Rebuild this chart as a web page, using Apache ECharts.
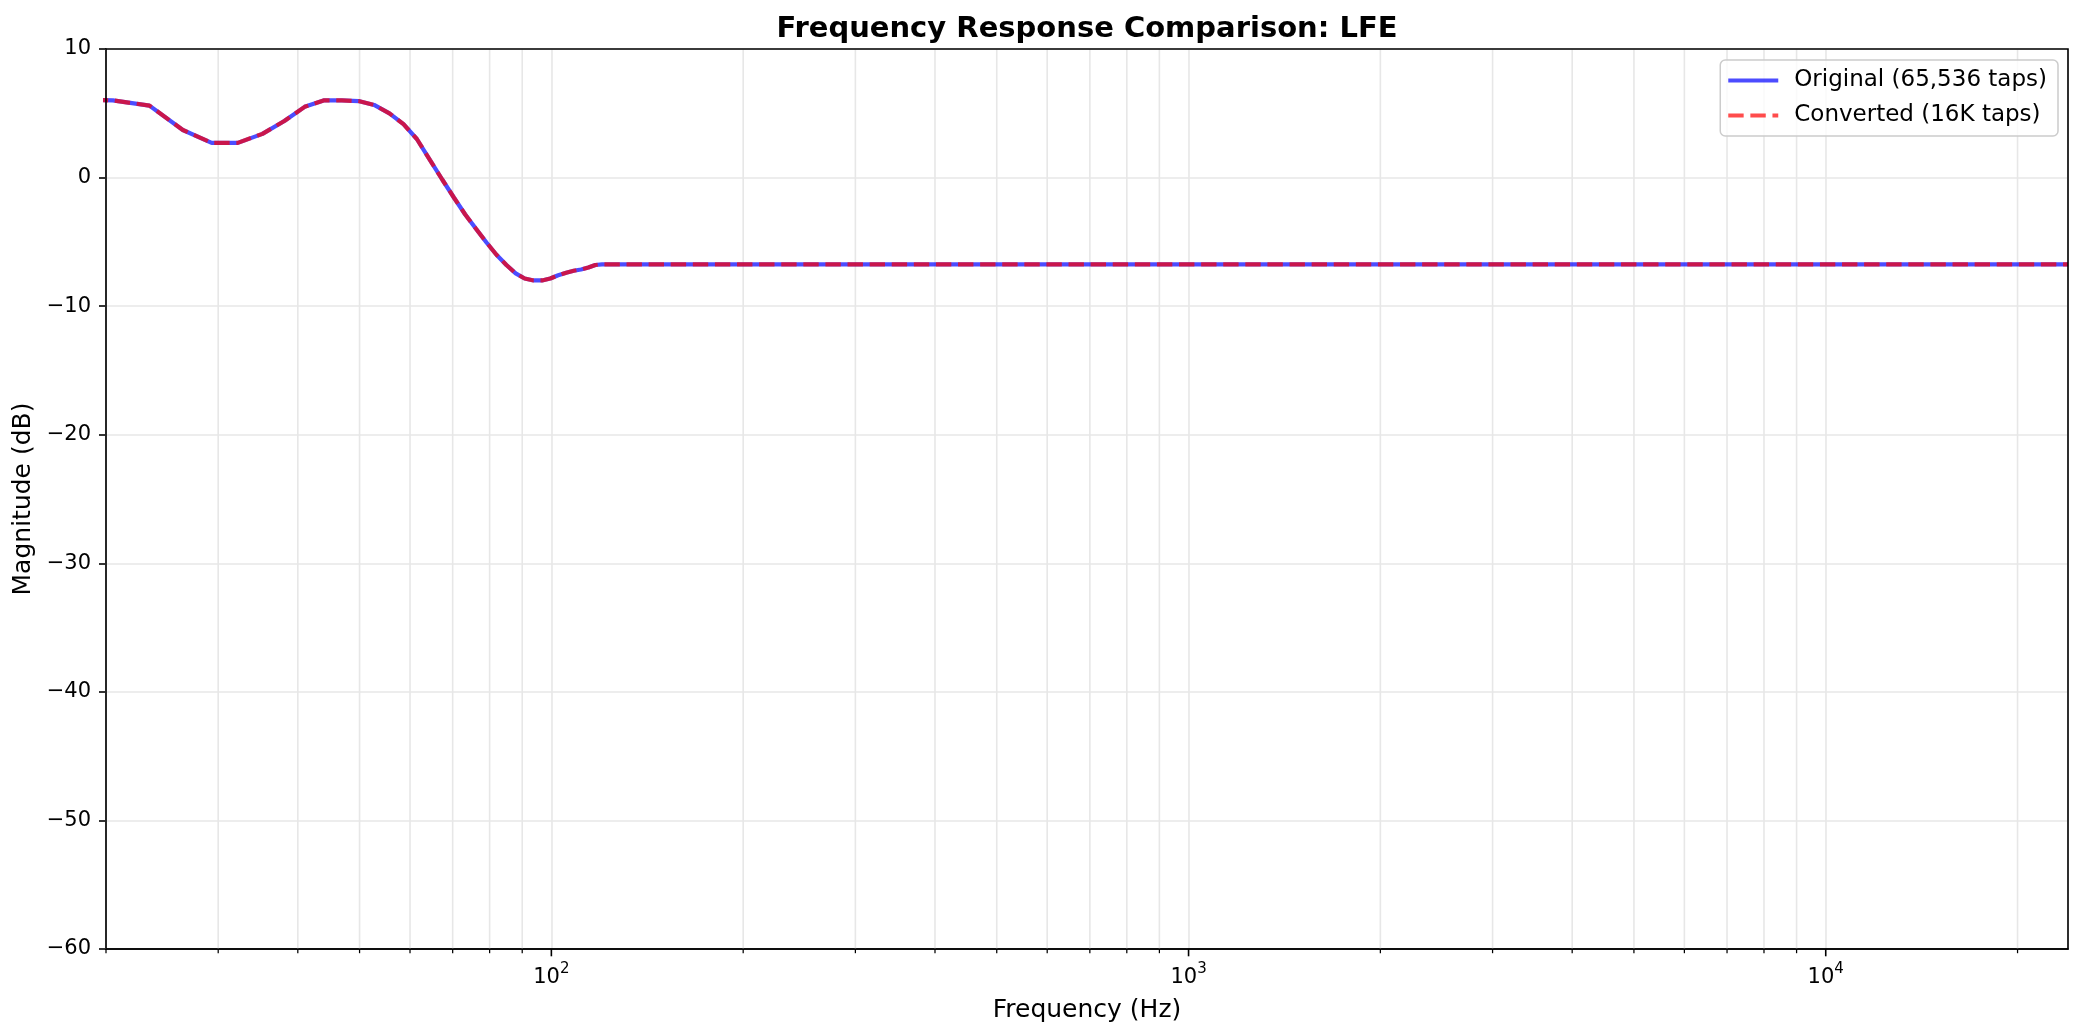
<!DOCTYPE html>
<html>
<head>
<meta charset="utf-8">
<title>Frequency Response Comparison: LFE</title>
<script src="https://cdn.jsdelivr.net/npm/echarts@6/dist/echarts.min.js"></script>
<style>
  html, body { margin: 0; padding: 0; background: #fff; }
  #chart { width: 2084px; height: 1036px; }
</style>
</head>
<body>
<div id="chart"></div>
<script>
// frequency bins (Hz), flat part thinned out
const freqHz = [17.6, 20.5, 23.4, 26.4, 29.3, 32.2, 35.2, 38.1, 41.0, 43.9, 46.9, 49.8,
  52.7, 55.7, 58.6, 61.5, 64.5, 67.4, 70.3, 73.2, 76.2, 79.1, 82.0, 85.0, 87.9, 90.8,
  93.8, 96.7, 99.6, 102.5, 105.5, 108.4, 111.3, 114.3, 117.2, 120.1, 123.0,
  200, 500, 1000, 2000, 5000, 10000, 24000];
// magnitude in dB
const originalDb = [6.1, 6.0, 5.6, 3.7, 2.7, 2.7, 3.4, 4.4, 5.5, 6.0, 6.0, 5.95,
  5.65, 5.0, 4.15, 3.0, 1.35, -0.15, -1.55, -2.85, -4.0, -5.05, -6.0, -6.8, -7.45, -7.85,
  -8.0, -8.0, -7.85, -7.6, -7.4, -7.25, -7.15, -7.0, -6.8, -6.75, -6.75,
  -6.75, -6.75, -6.75, -6.75, -6.75, -6.75, -6.75];
const convertedDb = [6.1, 6.0, 5.6, 3.7, 2.7, 2.7, 3.4, 4.4, 5.5, 6.0, 6.0, 5.95,
  5.65, 5.0, 4.15, 3.0, 1.35, -0.15, -1.55, -2.85, -4.0, -5.05, -6.0, -6.8, -7.45, -7.85,
  -8.0, -8.0, -7.85, -7.6, -7.4, -7.25, -7.15, -7.0, -6.8, -6.75, -6.75,
  -6.75, -6.75, -6.75, -6.75, -6.75, -6.75, -6.75];
const seriesNames = ['Original (65,536 taps)', 'Converted (16K taps)'];
// axis ticks
const majorTicksHz = [100, 1000, 10000];
const minorTicksHz = [20, 30, 40, 50, 60, 70, 80, 90,
  200, 300, 400, 500, 600, 700, 800, 900,
  2000, 3000, 4000, 5000, 6000, 7000, 8000, 9000, 20000];
const xRange = [20, 24000];
const yRange = [-60, 10];
const yStep = 10;

const font = 'DejaVu Sans';
const blue = 'rgba(0,0,255,0.7)';
const red = 'rgba(255,0,0,0.7)';
const chart = echarts.init(document.getElementById('chart'));

function pairs(xs, ys) {
  return xs.map((x, i) => [x, ys[i]]);
}

let option = {
  animation: false,
  backgroundColor: '#fff',
  title: {
    text: 'Frequency Response Comparison: LFE',
    left: 1087,
    textAlign: 'center',
    top: 15,
    padding: 0,
    textStyle: { fontFamily: font, fontSize: 29, fontWeight: 'bold', color: '#000' }
  },
  legend: {
    orient: 'vertical',
    right: 26,
    top: 60,
    itemWidth: 50,
    itemHeight: 4.2,
    itemGap: 12,
    padding: [9, 11, 9, 8],
    borderColor: '#cccccc',
    borderWidth: 1.5,
    borderRadius: 5,
    backgroundColor: 'rgba(255,255,255,0.8)',
    textStyle: { fontFamily: font, fontSize: 23, color: '#000', padding: [0, 0, 0, 11] },
    data: [
      { name: seriesNames[0], icon: 'path://M0,0H50V4H0Z' },
      { name: seriesNames[1], icon: 'path://M0,0H15.4V4H0Z M22.1,0H37.5V4H22.1Z M44.2,0H50V4H44.2Z' }
    ]
  },
  grid: {
    left: 106,
    right: 16,
    top: 49,
    bottom: 87,
    show: false
  },
  xAxis: {
    type: 'log',
    logBase: 10,
    min: xRange[0],
    max: xRange[1],
    name: 'Frequency (Hz)',
    nameLocation: 'middle',
    nameGap: 49,
    nameTextStyle: { fontFamily: font, fontSize: 25, color: '#000' },
    axisLine: { show: true, onZero: false, lineStyle: { color: '#000', width: 1.6 } },
    axisTick: { show: false },
    axisLabel: {
      margin: 13,
      showMinLabel: false,
      showMaxLabel: false,
      formatter(value) {
        let e = Math.round(Math.log10(value));
        if (Math.abs(Math.pow(10, e) - value) > 1e-6 * value) return '';
        return '{b|10}{s|' + e + '}';
      },
      rich: {
        b: { fontFamily: font, fontSize: 21, color: '#000', lineHeight: 26, verticalAlign: 'bottom' },
        s: { fontFamily: font, fontSize: 15, color: '#000', lineHeight: 15, verticalAlign: 'top' }
      }
    },
    splitLine: { show: true, lineStyle: { color: '#e7e7e7', width: 1.6 } }
  },
  yAxis: {
    type: 'value',
    min: yRange[0],
    max: yRange[1],
    interval: yStep,
    name: 'Magnitude (dB)',
    nameLocation: 'middle',
    nameRotate: 90,
    nameGap: 63,
    nameTextStyle: { fontFamily: font, fontSize: 25, color: '#000' },
    axisLine: { show: true, onZero: false, lineStyle: { color: '#000', width: 1.6 } },
    axisTick: { show: true, length: 7, lineStyle: { color: '#000', width: 1.6 } },
    axisLabel: {
      margin: 15,
      fontFamily: font,
      fontSize: 21,
      color: '#000',
      formatter(v) {
        return v < 0 ? '\u2212' + Math.abs(v) : String(v);
      }
    },
    splitLine: { show: true, lineStyle: { color: '#e7e7e7', width: 1.6 } }
  },
  series: [{
    name: seriesNames[0],
    type: 'line',
    data: pairs(freqHz, originalDb),
    symbol: 'none',
    clip: true,
    z: 2,
    itemStyle: { color: blue },
    lineStyle: { color: blue, width: 4.2 }
  }, {
    name: seriesNames[1],
    type: 'line',
    data: pairs(freqHz, convertedDb),
    symbol: 'none',
    clip: true,
    z: 3,
    itemStyle: { color: red },
    lineStyle: { color: red, width: 4.2, type: [15.4, 6.7] }
  }]
};
chart.setOption(option);

// matplotlib-like log ticks: minor grid lines + ticks placed via the axis scale, plus the frame
function drawTicks() {
  let yTop = chart.convertToPixel({ yAxisIndex: 0 }, yRange[1]);
  let yBot = chart.convertToPixel({ yAxisIndex: 0 }, yRange[0]);
  let xLeft = chart.convertToPixel({ xAxisIndex: 0 }, xRange[0]);
  let xRight = chart.convertToPixel({ xAxisIndex: 0 }, xRange[1]);
  let els = [];
  minorTicksHz.forEach(f => {
    let x = chart.convertToPixel({ xAxisIndex: 0 }, f);
    els.push({
      type: 'line', z: 1, silent: true,
      shape: { x1: x, y1: yTop, x2: x, y2: yBot },
      style: { stroke: '#e7e7e7', lineWidth: 1.6 }
    });
    els.push({
      type: 'line', z: 4, silent: true,
      shape: { x1: x, y1: yBot, x2: x, y2: yBot + 4.2 },
      style: { stroke: '#000', lineWidth: 1.25 }
    });
  });
  majorTicksHz.forEach(f => {
    let x = chart.convertToPixel({ xAxisIndex: 0 }, f);
    els.push({
      type: 'line', z: 4, silent: true,
      shape: { x1: x, y1: yBot, x2: x, y2: yBot + 7.3 },
      style: { stroke: '#000', lineWidth: 1.6 }
    });
  });
  els.push({
    type: 'rect', z: 10, silent: true,
    shape: { x: xLeft, y: yTop, width: xRight - xLeft, height: yBot - yTop },
    style: { fill: null, stroke: '#000', lineWidth: 1.6 }
  });
  chart.setOption({ graphic: els });
}
drawTicks();
</script>
</body>
</html>
